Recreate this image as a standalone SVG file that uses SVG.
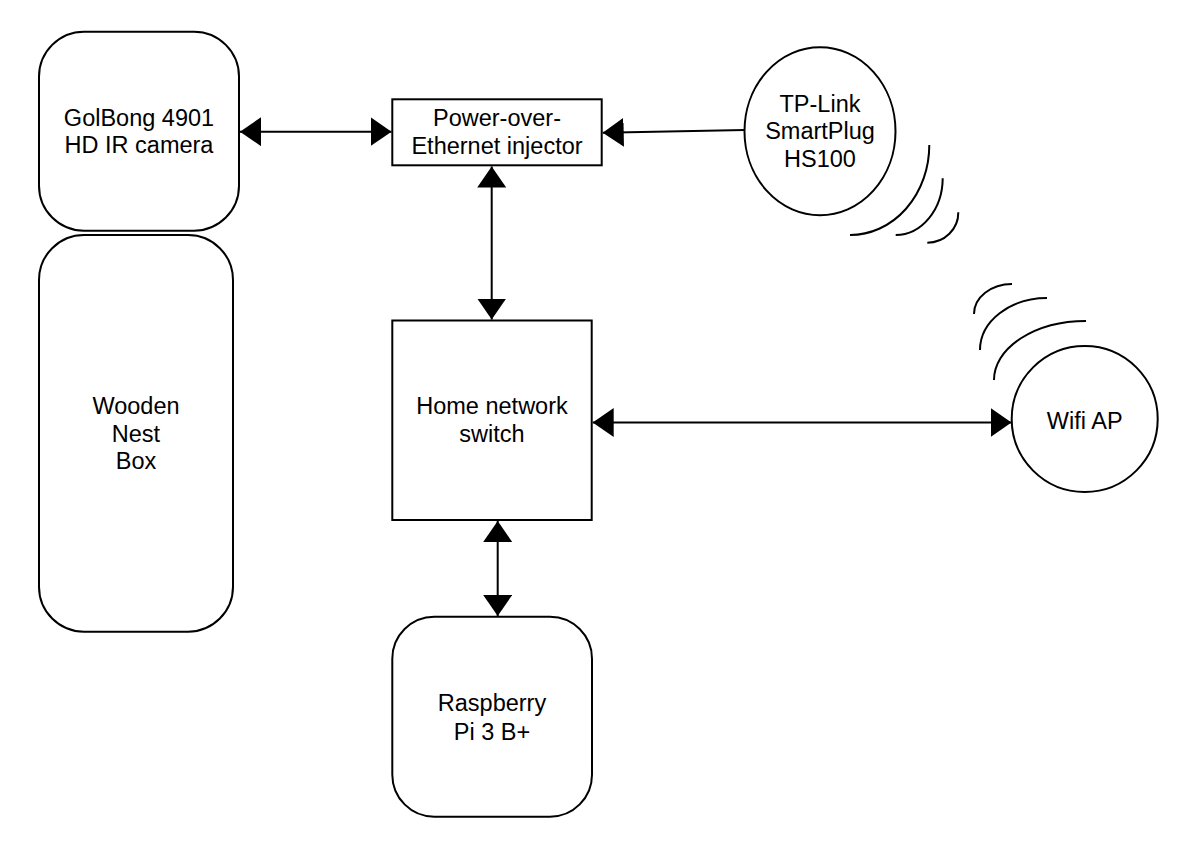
<svg xmlns="http://www.w3.org/2000/svg" width="1183" height="849" viewBox="0 0 1183 849">
  <style>
    .shape { fill: #ffffff; stroke: #000000; stroke-width: 2; }
    .lbl { font-family: "Liberation Sans", Arial, sans-serif; font-size: 23.5px; fill: #000000; text-anchor: middle; }
    .conn { stroke: #000000; stroke-width: 2; fill: none; }
    .wave { stroke: #000000; stroke-width: 2; fill: none; }
  </style>
  <defs>
    <marker id="arrow" markerUnits="userSpaceOnUse" markerWidth="22" markerHeight="30" refX="21" refY="14.5" orient="auto-start-reverse" viewBox="0 0 22 30">
      <path d="M0,0 L21,14.5 L0,29 Z" fill="#000000"/>
    </marker>
  </defs>
  <rect width="1183" height="849" fill="#ffffff"/>

  <g id="camera">
    <rect class="shape" x="39" y="31.7" width="200" height="199" rx="45" ry="45"/>
    <text class="lbl" x="139" y="125.7">GolBong 4901</text>
    <text class="lbl" x="139" y="153.3">HD IR camera</text>
  </g>

  <g id="nestbox">
    <rect class="shape" x="39" y="235" width="194" height="396.7" rx="45" ry="45"/>
    <text class="lbl" x="136" y="414.3">Wooden</text>
    <text class="lbl" x="136" y="441.7">Nest</text>
    <text class="lbl" x="136" y="469.3">Box</text>
  </g>

  <g id="poe">
    <rect class="shape" x="392.3" y="99.3" width="209.4" height="66"/>
    <text class="lbl" x="497" y="126">Power-over-</text>
    <text class="lbl" x="497" y="154">Ethernet injector</text>
  </g>

  <g id="smartplug">
    <ellipse class="shape" cx="820" cy="131.2" rx="75.5" ry="84"/>
    <text class="lbl" x="820" y="111.7">TP-Link</text>
    <text class="lbl" x="820" y="139.3">SmartPlug</text>
    <text class="lbl" x="820" y="166.7">HS100</text>
    <path class="wave" d="M850,235 A79,90 0 0 0 929.3,145"/>
    <path class="wave" d="M895.7,235 A47,57 0 0 0 942.7,178.3"/>
    <path class="wave" d="M927.3,242.7 A31,30 0 0 0 958.3,212.3"/>
  </g>

  <g id="switch">
    <rect class="shape" x="392.3" y="320.5" width="199.4" height="199.5"/>
    <text class="lbl" x="492" y="414">Home network</text>
    <text class="lbl" x="492" y="442">switch</text>
  </g>

  <g id="wifi">
    <circle class="shape" cx="1084.7" cy="419" r="73"/>
    <text class="lbl" x="1084.7" y="429">Wifi AP</text>
    <path class="wave" d="M974,314 A38,30 0 0 1 1012,284"/>
    <path class="wave" d="M980,350 A67,52 0 0 1 1047,298"/>
    <path class="wave" d="M994,380 A92,59 0 0 1 1086,321"/>
  </g>

  <g id="raspberrypi">
    <rect class="shape" x="392.3" y="616.7" width="199.7" height="200" rx="42" ry="42"/>
    <text class="lbl" x="492" y="711">Raspberry</text>
    <text class="lbl" x="492" y="740">Pi 3 B+</text>
  </g>

  <g id="connectors">
    <line class="conn" x1="240" y1="131.7" x2="391.5" y2="131.7" marker-start="url(#arrow)" marker-end="url(#arrow)"/>
    <line class="conn" x1="745" y1="130" x2="602.7" y2="132.7" marker-end="url(#arrow)"/>
    <line class="conn" x1="491.7" y1="166.5" x2="491.7" y2="319.5" marker-start="url(#arrow)" marker-end="url(#arrow)"/>
    <line class="conn" x1="592.7" y1="422.5" x2="1011.5" y2="422.5" marker-start="url(#arrow)" marker-end="url(#arrow)"/>
    <line class="conn" x1="497.7" y1="521" x2="497.7" y2="616" marker-start="url(#arrow)" marker-end="url(#arrow)"/>
  </g>
</svg>
